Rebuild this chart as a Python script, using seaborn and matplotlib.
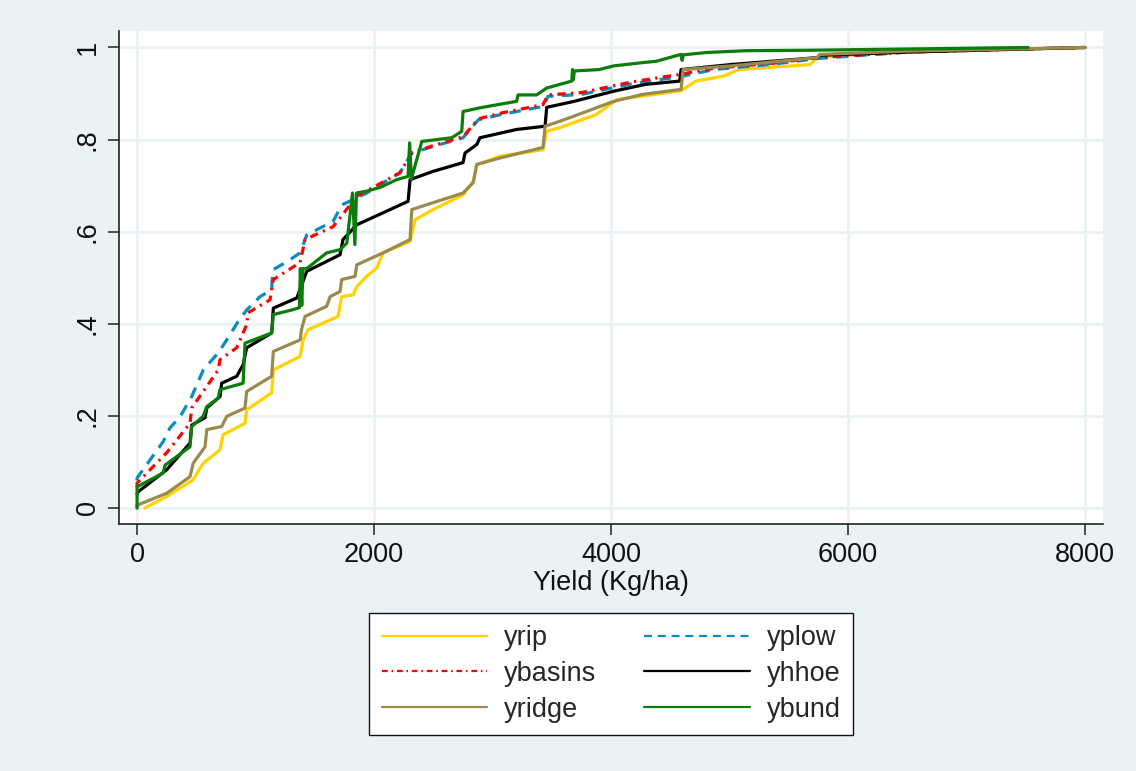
import matplotlib
matplotlib.use("Agg")
import matplotlib.pyplot as plt
import pandas as pd
import seaborn as sns

# ---------------- data ----------------
yrip_x = [67, 250, 473, 557, 700, 726, 911, 925, 1136, 1150, 1376, 1401, 1443, 1696, 1727, 1825, 1854,
          1938, 2023, 2076, 2304, 2346, 2498, 2751, 2838, 2866, 3063, 3426, 3457, 3570, 3871, 4051,
          4591, 4715, 4954, 5077, 5679, 5740, 6278, 7000, 8000]
yrip_y = [0.0, 0.025, 0.061, 0.097, 0.126, 0.159, 0.184, 0.213, 0.25, 0.30, 0.329, 0.365, 0.387, 0.416,
          0.459, 0.463, 0.481, 0.503, 0.521, 0.554, 0.579, 0.626, 0.648, 0.68, 0.71, 0.745, 0.764, 0.778,
          0.818, 0.826, 0.854, 0.887, 0.906, 0.927, 0.938, 0.952, 0.963, 0.978, 0.989, 0.994, 1.0]

yplow_x = [0, 0, 220, 278, 363, 461, 559, 685, 757, 853, 925, 1038, 1136, 1145, 1266, 1376, 1432, 1544,
           1654, 1727, 1825, 1938, 2076, 2219, 2318, 2500, 2751, 2880, 3063, 3426, 3468, 3750, 4172,
           4591, 4865, 5376, 5740, 6500, 7500]
yplow_y = [0.06, 0.065, 0.144, 0.174, 0.198, 0.242, 0.30, 0.337, 0.365, 0.405, 0.43, 0.459, 0.474, 0.517,
           0.535, 0.554, 0.593, 0.608, 0.622, 0.658, 0.67, 0.684, 0.706, 0.728, 0.771, 0.785, 0.804,
           0.843, 0.854, 0.872, 0.894, 0.898, 0.921, 0.937, 0.952, 0.964, 0.976, 0.99, 0.998]

ybasins_x = [0, 0, 250, 447, 461, 588, 685, 700, 841, 925, 937, 1122, 1150, 1376, 1418, 1654, 1713, 1854,
             2076, 2219, 2318, 2500, 2751, 2880, 3063, 3426, 3468, 3750, 4172, 4591, 4865, 5376, 5740,
             6500, 8000]
ybasins_y = [0.045, 0.054, 0.12, 0.184, 0.217, 0.264, 0.30, 0.322, 0.348, 0.398, 0.424, 0.452, 0.496,
             0.533, 0.583, 0.611, 0.63, 0.677, 0.708, 0.728, 0.771, 0.787, 0.806, 0.845, 0.857, 0.876,
             0.897, 0.902, 0.925, 0.942, 0.955, 0.966, 0.978, 0.99, 1.0]

yhhoe_x = [0, 8, 250, 447, 461, 574, 588, 700, 714, 841, 895, 925, 1136, 1150, 1348, 1432, 1713, 1738,
           1854, 2076, 2287, 2304, 2498, 2751, 2768, 2866, 2894, 3203, 3443, 3457, 3688, 4022, 4293,
           4579, 4591, 5013, 5740, 5760, 6500, 8000]
yhhoe_y = [0.03, 0.035, 0.083, 0.141, 0.18, 0.196, 0.217, 0.242, 0.271, 0.286, 0.311, 0.348, 0.38, 0.434,
           0.456, 0.514, 0.55, 0.583, 0.615, 0.641, 0.666, 0.713, 0.731, 0.75, 0.771, 0.789, 0.804,
           0.822, 0.829, 0.87, 0.883, 0.905, 0.92, 0.927, 0.952, 0.963, 0.978, 0.983, 0.99, 1.0]

yridge_x = [0, 0, 250, 447, 473, 574, 588, 714, 757, 911, 925, 1136, 1150, 1376, 1390, 1418, 1600, 1629,
            1713, 1727, 1840, 1854, 2076, 2304, 2318, 2498, 2751, 2838, 2866, 3063, 3426, 3443, 3570,
            3688, 4022, 4262, 4591, 4608, 5013, 5740, 5760, 6500, 8000]
yridge_y = [0.0, 0.006, 0.032, 0.068, 0.097, 0.133, 0.17, 0.177, 0.199, 0.217, 0.253, 0.286, 0.34, 0.365,
            0.39, 0.416, 0.438, 0.459, 0.47, 0.496, 0.503, 0.528, 0.554, 0.583, 0.648, 0.663, 0.684,
            0.707, 0.746, 0.76, 0.783, 0.829, 0.84, 0.851, 0.883, 0.898, 0.909, 0.952, 0.96, 0.978,
            0.985, 0.992, 1.0]

ybund_x = [0, 0, 220, 236, 447, 461, 557, 588, 685, 700, 895, 911, 1136, 1150, 1306, 1370, 1378, 1390,
           1400, 1432, 1600, 1713, 1770, 1818, 1838, 1852, 1938, 2050, 2191, 2287, 2300, 2315, 2403,
           2656, 2740, 2751, 2894, 3046, 3203, 3215, 3372, 3457, 3668, 3675, 3682, 3690, 3899, 4022,
           4262, 4380, 4591, 4600, 4610, 4802, 5137, 5679, 6278, 7519]
ybund_y = [0.0, 0.046, 0.076, 0.093, 0.133, 0.177, 0.199, 0.22, 0.239, 0.257, 0.271, 0.358, 0.38, 0.42,
           0.43, 0.435, 0.52, 0.44, 0.52, 0.52, 0.554, 0.561, 0.575, 0.684, 0.572, 0.684, 0.688, 0.696,
           0.713, 0.72, 0.793, 0.715, 0.796, 0.804, 0.818, 0.861, 0.869, 0.876, 0.883, 0.897, 0.897,
           0.912, 0.927, 0.952, 0.93, 0.949, 0.952, 0.96, 0.967, 0.97, 0.985, 0.972, 0.984, 0.989, 0.993,
           0.994, 0.996, 1.0]

series = ["yrip", "yplow", "ybasins", "yhhoe", "yridge", "ybund"]
series_x = [yrip_x, yplow_x, ybasins_x, yhhoe_x, yridge_x, ybund_x]
series_y = [yrip_y, yplow_y, ybasins_y, yhhoe_y, yridge_y, ybund_y]
colors = ["#FFD200", "#0C8BC0", "#FF0000", "#000000", "#9C8A4C", "#0A7D0A"]
styles = ["-", (0, (3.6, 2.6)), (0, (2.6, 1.7, 0.7, 1.7)), "-", "-", "-"]

x_ticks = [0, 2000, 4000, 6000, 8000]
x_ticklabels = ["0", "2000", "4000", "6000", "8000"]
y_ticks = [0, 0.2, 0.4, 0.6, 0.8, 1.0]
y_ticklabels = ["0", ".2", ".4", ".6", ".8", "1"]

# ---------------- figure ----------------
sns.set_style("white")
plt.rcParams['font.family'] = ['Liberation Sans', 'DejaVu Sans']
bg = "#EAF2F3"
fs = 19.5
fig = plt.figure(figsize=(11.36, 7.71), dpi=100, facecolor=bg)
ax = fig.add_axes([0.1048, 0.3204, 0.8662, 0.6394])
ax.set_facecolor("white")

for name, xs, ys, c, ls in zip(series, series_x, series_y, colors, styles):
    df = pd.DataFrame({"x": xs, "y": ys})
    sns.lineplot(data=df, x="x", y="y", sort=False, estimator=None, ax=ax,
                 color=c, linewidth=2.3, linestyle=ls, label=name)

ax.set_xlim(-152, 8152)
ax.set_ylim(-0.0347, 1.0358)
ax.set_xticks(x_ticks)
ax.set_xticklabels(x_ticklabels)
ax.set_yticks(y_ticks)
ax.set_yticklabels(y_ticklabels, rotation=90, va="center")
ax.grid(True, color=bg, linewidth=2.0)
ax.set_axisbelow(True)
for s in ["top", "right"]:
    ax.spines[s].set_visible(False)
for s in ["left", "bottom"]:
    ax.spines[s].set_color("#222222")
    ax.spines[s].set_linewidth(1.2)
ax.tick_params(axis="both", which="major", length=8, width=1.1, color="#222222",
               labelsize=fs, labelcolor="#111111", direction="out", bottom=True, left=True)
ax.tick_params(axis="x", pad=5)
ax.tick_params(axis="y", pad=5)
ax.set_xlabel("Yield (Kg/ha)", fontsize=fs, color="#111111", labelpad=1.5)
ax.set_ylabel("")

handles, labels = ax.get_legend_handles_labels()
ax.get_legend().remove()
order = ["yrip", "ybasins", "yridge", "yplow", "yhhoe", "ybund"]
hmap = dict(zip(labels, handles))
leg = fig.legend([hmap[o] for o in order], order, ncol=2, loc="center",
                 bbox_to_anchor=(0.538, 0.126), fontsize=fs, frameon=True, framealpha=1,
                 fancybox=False, edgecolor="#111111", facecolor="white",
                 handlelength=3.9, handletextpad=0.63, columnspacing=1.75,
                 labelspacing=0.36, borderpad=0.45, borderaxespad=0)
leg.get_frame().set_linewidth(1.0)
for line in leg.get_lines():
    line.set_linewidth(1.6)

fig.savefig("out.png", dpi=100, facecolor=bg)
